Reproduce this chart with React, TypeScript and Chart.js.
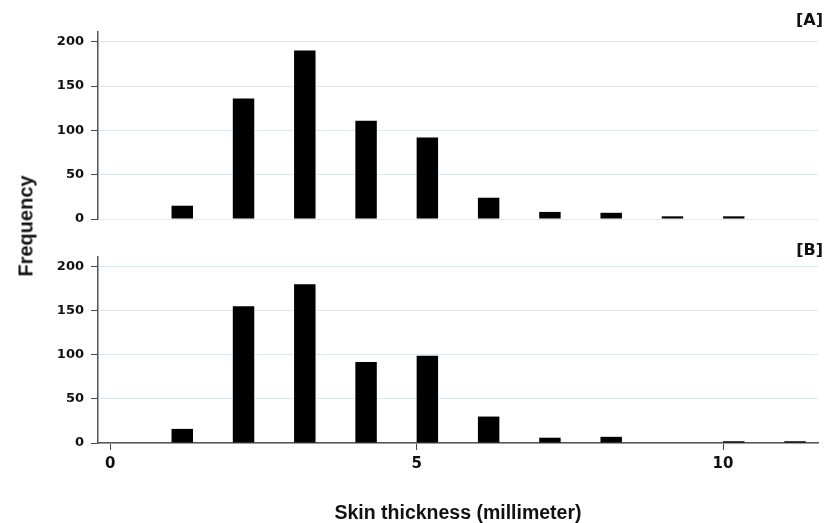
import { useEffect, useRef } from 'react';
import { Chart, registerables } from 'chart.js';

Chart.register(...registerables);

// Histogram bins (left edge of each bar, millimeter)
const BIN_STARTS = [1, 2, 3, 4, 5, 6, 7, 8, 9, 10, 11];
// Panel [A] frequencies
const FREQ_A: (number | null)[] = [15, 136, 190, 111, 92, 24, 8, 7, 3, 3, null];
// Panel [B] frequencies
const FREQ_B: (number | null)[] = [16, 155, 180, 92, 99, 30, 6, 7, null, 2, 2];

const X_TICKS = [0, 5, 10];
const Y_TICKS = [0, 50, 100, 150, 200];
const X_MIN = -0.2;
const X_MAX = 11.55;
const Y_MAX = 211;
const BAR_WIDTH = 0.35; // bar width in x units

const X_TITLE = 'Skin thickness (millimeter)';
const Y_TITLE = 'Frequency';

const GRID_COLOR = '#dcebf2';
const AXIS_COLOR = '#555555';
const TICK_COLOR = '#444444';
const TEXT_COLOR = '#111111';

function makeConfig(values: (number | null)[], showX: boolean, padTop: number, padBottom: number): any {
  return {
    type: 'bar',
    data: {
      datasets: [
        {
          data: BIN_STARTS.map((b, i) => ({ x: b + BAR_WIDTH / 2, y: values[i] })),
          backgroundColor: '#000000',
          borderWidth: 0,
          barPercentage: BAR_WIDTH,
          categoryPercentage: 1,
        },
      ],
    },
    options: {
      responsive: false,
      animation: false,
      layout: { padding: { top: padTop, right: 9, bottom: padBottom, left: 0 } },
      plugins: {
        legend: { display: false },
        tooltip: { enabled: false },
        title: { display: false },
      },
      scales: {
        x: {
          type: 'linear',
          min: X_MIN,
          max: X_MAX,
          offset: false,
          display: showX,
          afterBuildTicks: (s: any) => {
            s.ticks = X_TICKS.map((v) => ({ value: v }));
          },
          afterFit: (s: any) => {
            s.height = showX ? 80 : 0;
          },
          grid: {
            display: true,
            drawOnChartArea: false,
            drawTicks: true,
            tickLength: 7,
            tickColor: TICK_COLOR,
            offset: false,
          },
          border: { display: true, color: AXIS_COLOR, width: 1.5 },
          ticks: {
            font: { family: '"DejaVu Sans"', size: 15, weight: 'bold' },
            color: TEXT_COLOR,
            padding: 5,
            maxRotation: 0,
            autoSkip: false,
          },
          title: {
            display: true,
            text: X_TITLE,
            font: { family: '"Liberation Sans", Arial', size: 19.5, weight: 'bold', lineHeight: 1.0 },
            color: TEXT_COLOR,
            padding: { top: 0, bottom: 0 },
          },
        },
        y: {
          type: 'linear',
          min: 0,
          max: Y_MAX,
          afterBuildTicks: (s: any) => {
            s.ticks = Y_TICKS.map((v) => ({ value: v }));
          },
          afterFit: (s: any) => {
            s.width = 98;
          },
          grid: {
            color: GRID_COLOR,
            lineWidth: 1,
            drawTicks: true,
            tickLength: 7,
            tickColor: TICK_COLOR,
          },
          border: { display: true, color: AXIS_COLOR, width: 1.5 },
          ticks: {
            font: { family: '"DejaVu Sans"', size: 13, weight: 'bold' },
            color: TEXT_COLOR,
            padding: 7,
          },
        },
      },
    },
  };
}

export default function App() {
  const refA = useRef<HTMLCanvasElement>(null);
  const refB = useRef<HTMLCanvasElement>(null);

  useEffect(() => {
    const a = new Chart(refA.current as HTMLCanvasElement, makeConfig(FREQ_A, false, 32, 21));
    const b = new Chart(refB.current as HTMLCanvasElement, makeConfig(FREQ_B, true, 17, 0));
    return () => {
      a.destroy();
      b.destroy();
    };
  }, []);

  const panelLabel: any = {
    position: 'absolute',
    right: 4,
    font: 'bold 16px "DejaVu Sans"',
    color: TEXT_COLOR,
    lineHeight: '20px',
    whiteSpace: 'nowrap',
  };

  return (
    <div style={{ position: 'fixed', left: 0, top: 0, width: 827, height: 523, background: '#ffffff' }}>
      <canvas ref={refA} width={827} height={240} style={{ position: 'absolute', left: 0, top: 0, display: 'block' }} />
      <canvas ref={refB} width={827} height={283} style={{ position: 'absolute', left: 0, top: 240, display: 'block' }} />
      <div style={{ ...panelLabel, top: 10 }}>[A]</div>
      <div style={{ ...panelLabel, top: 240 }}>[B]</div>
      <div
        style={{
          position: 'absolute',
          left: 26,
          top: 226,
          transform: 'translate(-50%, -50%) rotate(-90deg)',
          font: 'bold 20px "Liberation Sans", Arial',
          color: TEXT_COLOR,
          whiteSpace: 'nowrap',
        }}
      >
        {Y_TITLE}
      </div>
    </div>
  );
}
